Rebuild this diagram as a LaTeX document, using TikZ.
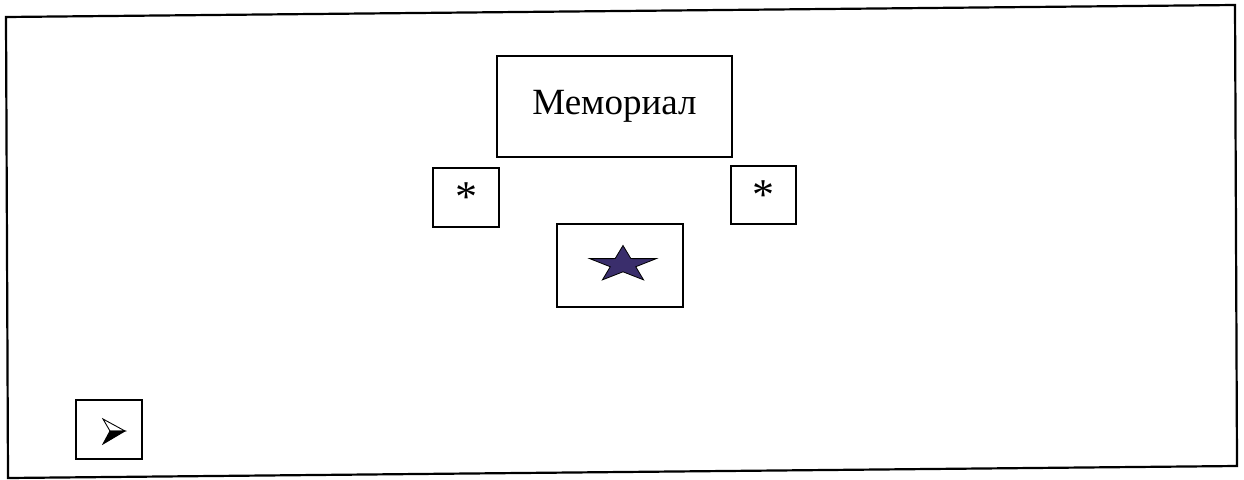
\documentclass[tikz,border=0pt]{standalone}
\usepackage{fontspec}
\setmainfont{Liberation Serif}
\begin{document}
\begin{tikzpicture}[x=1pt,y=1pt,
  box/.style={draw=black, line width=2.2pt, inner sep=0pt, font=\fontsize{37}{40}\selectfont},
  asterisk/.style={font=\fontsize{44}{46}\selectfont},
  frameline/.style={draw=black, line width=2.2pt},
  starstyle/.style={fill=starblue, draw=black, line width=0.8pt, line join=miter}]
\definecolor{starblue}{RGB}{58,46,108}
\useasboundingbox (0,0) rectangle (1244,-479);
% outer frame (slightly skewed as in the scan)
\draw[frameline] (6,-17) -- (1235,-5) -- (1237,-466) -- (8,-478) -- cycle;
% boxes
\node[box, minimum width=235pt, minimum height=101pt] (mem) at (614.5,-106.5) {Мемориал};
\node[box, asterisk, minimum width=66pt, minimum height=59pt] (astl) at (466,-197.5) {\raisebox{-0.24em}{*}};
\node[box, asterisk, minimum width=65pt, minimum height=58pt] (astr) at (763.5,-195) {\raisebox{-0.24em}{*}};
\node[box, minimum width=126pt, minimum height=83pt] (sb) at (620,-265.5) {};
\node[box, minimum width=66pt, minimum height=59pt] (arr) at (109,-429.5) {};
% star
\path (sb.center) ++(3,1) coordinate (sc);
\filldraw[shift={(sc)}, starstyle] (90:35 and 19) -- (126:13.4 and 7.3) -- (162:35 and 19) -- (198:13.4 and 7.3) -- (234:35 and 19) -- (270:13.4 and 7.3) -- (306:35 and 19) -- (342:13.4 and 7.3) -- (18:35 and 19) -- (54:13.4 and 7.3) -- cycle;
% arrowhead glyph
\coordinate (ac) at (arr.center);
\draw[shift={(ac)}, line width=0.9pt, line join=miter, fill=white] (-6,10.5) -- (16,-1.5) -- (1,-1.5) -- cycle;
\filldraw[shift={(ac)}, line width=0.9pt, line join=miter, fill=black] (1,-1.5) -- (16,-1.5) -- (-6,-14.5) -- cycle;
\end{tikzpicture}
\end{document}
